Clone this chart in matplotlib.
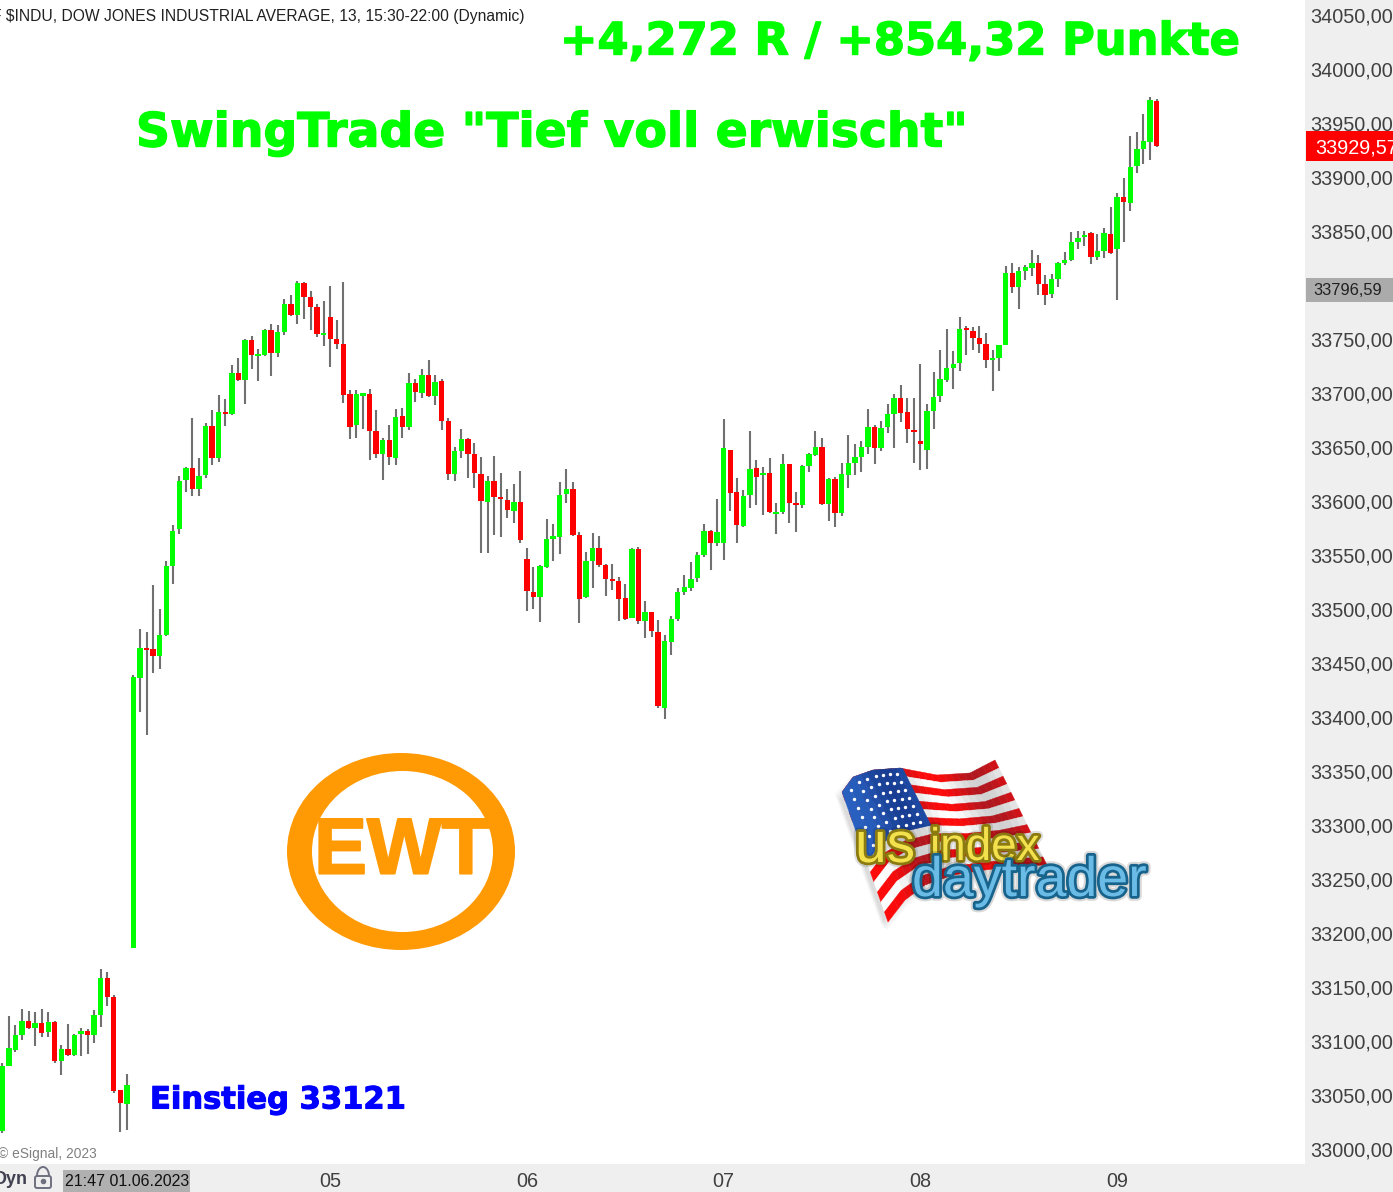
import numpy as np
import matplotlib
matplotlib.use("Agg")
import matplotlib.pyplot as plt
from matplotlib.patches import Ellipse, Polygon, Rectangle, FancyBboxPatch
import matplotlib.patheffects as pe

W, H = 1393, 1192

# --- data, one entry per 13-minute bar ---
body_high = [33078,33094,33106.5,33119.4,33119.4,33117.7,33117.7,33118.4,33118.4,33093.5,
33093.5,33106.5,33110,33110,33125,33159.3,33159.3,33141.4,33055.4,33060,
33438,33464.8,33464.8,33463.9,33476.8,33540.7,33573.1,33619.4,33631.5,33631.5,
33624.1,33670.4,33670.4,33683.3,33683.3,33719.4,33719.4,33750,33750,33737,
33759.2,33759.2,33757.4,33783.3,33783.3,33802.8,33802.8,33789.8,33780.5,33756.5,
33771.3,33750.9,33746.3,33700,33700,33700.9,33700,33665.7,33657.4,33657.4,
33678.7,33679.6,33710.2,33710.2,33717.6,33717.6,33711.1,33712,33675,33647.2,
33658.3,33658.3,33644.4,33625.9,33619.4,33619.4,33604.6,33601.8,33600,33600,
33547.2,33516.6,33540.7,33565.7,33568.5,33606.4,33612,33612,33569.4,33545.4,
33557.4,33557.4,33541.7,33528.7,33526.9,33511.1,33556.5,33556.5,33498.2,33498.2,
33479.6,33471.3,33491.7,33516.7,33521.3,33528.7,33550.9,33573.2,33573.2,33572.2,
33650,33648.2,33609.3,33605.6,33630.6,33631.5,33626.9,33626.9,33590.8,33635.2,
33635.2,33599,33633.3,33644.4,33650.9,33650.9,33621.3,33621.3,33625.9,33636.1,
33641.6,33650.9,33669.4,33669.4,33668.5,33681.4,33696.3,33696.3,33683.3,33666.6,
33656.4,33684.2,33697.2,33713.9,33724,33727.7,33760.1,33761.1,33758.3,33751.8,
33746.3,33733.3,33745.3,33812.1,33812.1,33813.9,33817.6,33821.3,33821.3,33801.9,
33806.5,33821.3,33824.1,33840.8,33844.5,33847.2,33849.1,33832.4,33849.1,33848.2,
33882.4,33882.4,33910.2,33926.9,33934.3,33972.2,33971.3]

body_low = [33018,33078,33093,33106.5,33112.8,33112.8,33108,33109.3,33082.3,33082.3,
33088,33088,33107.2,33106.5,33106.5,33125,33141.4,33054.7,33043.5,33042.5,
33187.2,33436.9,33462.9,33457.4,33457.4,33476.8,33540.7,33575,33620.4,33612,
33612,33625,33640.7,33640.7,33681.5,33681.5,33712.9,33712.9,33736.1,33735.2,
33736.1,33737.9,33737.9,33757.4,33773.1,33773.1,33789.8,33780.5,33755.5,33754.6,
33750.9,33746.3,33699.1,33669.4,33671.3,33698.1,33665.7,33644.4,33644.4,33641.6,
33640.7,33669.4,33669.4,33701.8,33700.9,33698.1,33698.1,33675,33625.9,33625.9,
33647.2,33644.4,33626.8,33600.9,33600,33604.6,33602.7,33592.6,33591.6,33564.8,
33517.6,33512,33512,33539.8,33565.7,33567.6,33607.4,33569.4,33510.2,33512.1,
33545.4,33541.7,33528.7,33526.9,33510.2,33491.7,33492.6,33489.8,33489.8,33480.6,
33411.1,33409.3,33470.4,33491.7,33516.7,33520.4,33529.6,33550.9,33562.1,33562.1,
33562.1,33608.3,33578.7,33577.8,33606.5,33623.2,33625,33590.8,33588.9,33590.8,
33599,33597.2,33597.2,33633.3,33643.5,33598.1,33598.1,33589.8,33589.8,33625,
33636.1,33641.6,33650.9,33650,33650,33669.4,33681.4,33682.4,33667.6,33664.8,
33653.7,33648.1,33684.2,33698.1,33713,33724,33728.7,33759.2,33751.8,33746.3,
33731.4,33731.4,33733.3,33745.4,33799.1,33799.1,33813.9,33816.7,33801.9,33791.7,
33792.6,33806.5,33821.3,33824.1,33840.8,33845.4,33826.9,33826.9,33832.4,33830.6,
33834.3,33877.8,33876.9,33911.1,33926.9,33933.4,33929.6]

wick_high = [33081,33124,33115.6,33130.6,33128.5,33127.8,33130.6,33127.8,33119.8,33097,
33116.6,33107,33112.8,33112,33129.5,33167.3,33164.9,33143.9,33055.4,33070.5,
33440,33482.4,33479.6,33523.1,33500.9,33545.4,33578.7,33624.1,33632.4,33677.8,
33640.7,33673.1,33685.2,33699.1,33695.4,33726.8,33733.3,33750.9,33753.7,33741.7,
33760.2,33764.8,33763.9,33787.9,33791.7,33804.6,33803.7,33795.4,33783.3,33786.1,
33800,33768.5,33803.7,33703.7,33703.7,33700.9,33704.6,33685.2,33659.2,33671.3,
33686.1,33687,33719.4,33713.9,33723.1,33731.4,33717.6,33713.9,33677.7,33650.9,
33667.6,33659.2,33654.6,33641.6,33624,33642.6,33626.8,33612,33616.6,33628.7,
33557.4,33539.8,33541.7,33584.2,33579.6,33618.5,33630.5,33618.5,33572.2,33553.7,
33571.3,33568.5,33542.6,33542.6,33530.6,33524.1,33557.4,33558.3,33508.3,33498.2,
33490.8,33476.9,33494.5,33520.4,33532.4,33544.5,33553.7,33579.6,33574.1,33602.8,
33676.9,33648.2,33622.2,33611.1,33665.8,33638.9,33632.4,33640.8,33599.1,33644.5,
33635.2,33609.2,33634.2,33645.3,33665.7,33659.2,33622.2,33623.1,33636.1,33662,
33653.7,33656.4,33686.1,33671.3,33675,33690.7,33700,33708.3,33696.3,33696.3,
33727.7,33690.7,33720.3,33740.7,33760.1,33739.8,33771.3,33762.9,33762,33762.9,
33756.4,33740.7,33745.3,33818.5,33821.3,33817.6,33819.5,33833.4,33828.7,33810.2,
33811.1,33822.2,33831.5,33850,33850.9,33850.9,33850,33848.2,33853.7,33873.2,
33886.1,33900,33938.9,33942.6,33959.3,33975,33973.2]

wick_low = [33015.6,33078,33091,33102,33112,33096,33104.8,33104.8,33080.6,33069.4,
33086.9,33086.9,33086.9,33089,33099,33113.8,33133.4,33053,33017,33018.4,
33187,33405.4,33384.4,33441.8,33445.4,33475.9,33524.1,33570.4,33609.2,33605.5,
33605.5,33622.2,33634.2,33637,33670.4,33680.5,33712,33690.7,33723.1,33712,
33735.2,33716.7,33734.2,33754.6,33772.2,33764.8,33769.4,33759.2,33752.8,33744.4,
33725,33741.7,33691.7,33658.3,33659.2,33667.6,33638.9,33640.7,33620.3,33634.2,
33634.2,33659.2,33666.6,33692.6,33696.3,33697.2,33689.8,33666.6,33620.3,33619.4,
33640.7,33622.2,33612.9,33552.7,33552.7,33569.4,33567.6,33585.1,33580.5,33562,
33499,33500.9,33488.8,33538.8,33545.3,33551.8,33599,33568.5,33488,33511.1,
33520.4,33539.8,33513,33518.5,33489.8,33490.8,33492.6,33487.1,33474.1,33475,
33409.3,33399.1,33458.3,33489.8,33513.9,33517.6,33525.9,33549.1,33537.1,33559.3,
33546.3,33591.7,33562.1,33576.9,33594.5,33597.2,33588,33589.8,33570.4,33588.9,
33580.5,33572.2,33594.4,33627.7,33642.6,33597.2,33582.4,33576.8,33587,33612.9,
33625,33627.7,33644.4,33635.2,33647.2,33663.9,33650,33674,33654.6,33636.1,
33629.6,33630.5,33667.6,33692.6,33711.1,33704.6,33721.3,33736.1,33740.7,33737.9,
33724,33702.7,33721.3,33745.4,33793.5,33778.7,33805.6,33809.3,33791.7,33782.4,
33788.9,33799.1,33819.5,33823.2,33834.3,33837,33820.4,33824.1,33825.9,33829.6,
33787.1,33840.8,33869.5,33904.6,33913,33916.7,33928.7]

direction = ("GGGGRGRGRG" "RGGRGGRRRG"
             "GGRRGGGGGR" "GGRGRGRGRG"
             "GRGGRGRRRG" "RRRRGGRRGR"
             "GRGRGRGRRG" "GRRRGRRRGR"
             "RRGGGGGRRG" "GRRRRRGRGR"
             "RGGGGGGGRG" "GRRGGRGRGG"
             "RRGGGRGRGG" "GGGRGGGRRR"
             "RGGGGGGRRR" "RGGGRGGGRR"
             "GGGGGGRGGR" "GRGGGGR")

price_ticks = [34050 - 50 * k for k in range(22)]
day_ticks = [50, 80, 110, 140, 170]
day_labels = ["05", "06", "07", "08", "09"]
last_price = 33929.57
ref_price = 33796.59

GREEN, RED, WICK = "#00FF00", "#FF0000", "#707070"
STRIP = "#EFEFEF"
TXT = "#404040"

# --- pixel calibration of the chart's scales ---
PX_PER_BAR = 6.558
PX_BAR0 = 2.3
PX_PER_POINT = 1.08
PLOT_W, PLOT_H = 1305, 1164

fig = plt.figure(figsize=(W / 100, H / 100), dpi=100, facecolor="white")
ax = fig.add_axes([0, 1 - PLOT_H / H, PLOT_W / W, PLOT_H / H])
ax.set_xlim(-PX_BAR0 / PX_PER_BAR, (PLOT_W - PX_BAR0) / PX_PER_BAR)
ax.set_ylim(34050 - (PLOT_H - 16) / PX_PER_POINT, 34050 + 16 / PX_PER_POINT)
for s in ax.spines.values():
    s.set_visible(False)
ax.set_xticks([]); ax.set_yticks([])

xs = np.arange(len(direction))
cols = [GREEN if d == "G" else RED for d in direction]
ax.vlines(xs, wick_low, wick_high, colors=WICK, linewidth=1.5, zorder=2)
ax.bar(xs, np.array(body_high) - np.array(body_low), bottom=body_low, width=0.82,
       color=cols, linewidth=0, zorder=3)

# overlay in pixel coordinates for furniture
ov = fig.add_axes([0, 0, 1, 1], facecolor="none")
ov.set_xlim(0, W); ov.set_ylim(H, 0); ov.axis("off")
ov.add_patch(Rectangle((1305, 0), 88, H, fc=STRIP, ec="none", zorder=1))
ov.add_patch(Rectangle((0, 1164), W, 28, fc=STRIP, ec="none", zorder=1))

FONT = "Liberation Sans"
def py(p):
    return 16 + (34050 - p) * PX_PER_POINT
def px(i):
    return PX_BAR0 + PX_PER_BAR * i

for p in price_ticks:
    ov.text(1310, py(p) + 1.2, f"{p:.2f}".replace(".", ","), fontsize=14.3, family=FONT,
            color=TXT, va="center", ha="left", zorder=2, clip_on=True)
for i, l in zip(day_ticks, day_labels):
    ov.text(px(i), 1181.5, l, fontsize=14.3, family=FONT, color=TXT, va="center", ha="center", zorder=2)

ov.add_patch(Rectangle((1306, 131), 87, 30, fc=RED, ec="none", zorder=3))
ov.text(1315, py(last_price) + 2, f"{last_price:.2f}".replace(".", ","), fontsize=14.3, family=FONT,
        color="white", va="center", ha="left", zorder=4, clip_on=True)
ov.add_patch(Rectangle((1306, 278), 87, 24, fc="#ABABAB", ec="none", zorder=3))
ov.text(1313, py(ref_price) + 1.2, f"{ref_price:.2f}".replace(".", ","), fontsize=11.8, family=FONT,
        color="#202020", va="center", ha="left", zorder=4, clip_on=True)

ov.text(-8, 17, "F $INDU, DOW JONES INDUSTRIAL AVERAGE, 13, 15:30-22:00 (Dynamic)", fontsize=11.25,
        family=FONT, color="#202020", va="center", ha="left", clip_on=True)
ov.text(-2, 1154, "© eSignal, 2023", fontsize=9.9, family=FONT, color="#808080", va="center", ha="left")
ov.text(-6, 1179, "Dyn", fontsize=13, family=FONT, weight="bold", color="#404050", va="center", ha="left", clip_on=True)
ov.add_patch(Rectangle((63, 1170), 127, 22, fc="#B0B0B0", ec="none", zorder=2))
ov.text(65, 1181.5, "21:47 01.06.2023", fontsize=11.5, family=FONT, color="#101010", va="center", ha="left", zorder=3)
# lock icon
ov.add_patch(FancyBboxPatch((35, 1176), 16, 12, boxstyle="round,pad=0,rounding_size=2", fc="none", ec="#6E7080", lw=1.4, zorder=3))
t = np.linspace(np.pi, 2 * np.pi, 30)
ov.plot(43 + 6 * np.cos(t), 1176 + 9 * np.sin(t), color="#6E7080", lw=1.4, zorder=3)
ov.plot([43], [1181], "o", color="#6E7080", ms=3, zorder=3)

# headlines
heavy = [pe.withStroke(linewidth=1.0, foreground=GREEN)]
ov.text(560, 42, "+4,272 R / +854,32 Punkte", fontsize=32.2, family="DejaVu Sans", weight="bold",
        color=GREEN, va="center", ha="left", path_effects=heavy)
ov.text(136, 134, 'SwingTrade "Tief voll erwischt"', fontsize=34, family="DejaVu Sans", weight="bold",
        color=GREEN, va="center", ha="left", path_effects=heavy)
ov.text(150, 1100, "Einstieg 33121", fontsize=22, family="DejaVu Sans", weight="bold",
        color="#0000FF", va="center", ha="left",
        path_effects=[pe.withStroke(linewidth=0.8, foreground="#0000FF")])

# EWT logo
ORANGE = "#FF9A05"
ov.add_patch(Ellipse((401, 851.5), 228, 197, fc=ORANGE, ec="none", zorder=2))
ov.add_patch(Ellipse((402.5, 851.5), 181, 161, fc="white", ec="none", zorder=3))
ov.text(402, 853, "EWT", fontsize=57, family=FONT, weight="bold", color=ORANGE,
        va="center", ha="center", zorder=4,
        path_effects=[pe.withStroke(linewidth=1.5, foreground=ORANGE)])

# US flag logo
ut = [0, .07, .2, .4, .62, .83, 1]
tx = [842, 853, 873, 900, 937, 970, 995]
ty = [792, 777, 770, 768, 775, 773, 760]
bx = [888, 905, 925, 953, 985, 1018, 1047]
by = [922, 900, 885, 875, 870, 866, 865]
def warp(u, v):
    xt, yt = np.interp(u, ut, tx), np.interp(u, ut, ty)
    xb, yb = np.interp(u, ut, bx), np.interp(u, ut, by)
    return xt + (xb - xt) * v, yt + (yb - yt) * v
def patch(u0, u1, v0, v1, color, z=2, alpha=1.0, dx=0, dy=0):
    u = np.linspace(u0, u1, 12)
    xa, ya = warp(u, v0); xb, yb = warp(u[::-1], v1)
    pts = np.column_stack([np.r_[xa, xb] + dx, np.r_[ya, yb] + dy])
    ov.add_patch(Polygon(pts, fc=color, ec=color, lw=0.3, alpha=alpha, zorder=z))
for k in range(7):
    patch(0, 1, 0, 1, "#000000", z=2, alpha=0.02, dx=-7 + k, dy=2 + k)
n_seg = 24
for j in range(n_seg):
    u0, u1 = j / n_seg, (j + 1) / n_seg
    um = (u0 + u1) / 2
    shade = 0.5 + 0.5 * np.cos(um * 11)
    red = np.array([0.69, 0.09, 0.12]) * (1 - shade) + np.array([1.0, 0.04, 0.04]) * shade
    white = np.array([0.82, 0.82, 0.82]) * (1 - shade) + np.array([1, 1, 1]) * shade
    blue = np.array([0.09, 0.24, 0.58]) * (1 - shade) + np.array([0.16, 0.38, 0.75]) * shade
    for k in range(13):
        patch(u0, u1, k / 13, (k + 1) / 13, tuple(red if k % 2 == 0 else white), z=3)
    if um < .4:
        patch(u0, u1, 0, .54, tuple(blue), z=4)
us, vs = np.meshgrid(np.linspace(.04, .36, 7), np.linspace(.05, .49, 7))
sx, sy = warp(us.ravel(), vs.ravel())
ov.scatter(sx, sy, s=6, c="white", linewidths=0, zorder=5)
yellow_fx = [pe.withStroke(linewidth=7, foreground=(0, 0, 0, 0.12)), pe.withStroke(linewidth=4, foreground="#8A7A10")]
blue_fx = [pe.withStroke(linewidth=7, foreground=(0, 0, 0, 0.15)), pe.withStroke(linewidth=4, foreground="#17638C")]
ov.text(855, 862, "us", fontsize=41, family=FONT, color="#F2E14C", va="baseline", ha="left", zorder=6, path_effects=yellow_fx)
ov.text(930, 860, "index", fontsize=33, family=FONT, color="#F2E14C", va="baseline", ha="left", zorder=6, path_effects=yellow_fx)
ov.text(912, 896, "daytrader", fontsize=40, family=FONT, color="#6ABCE6", va="baseline", ha="left", zorder=7, path_effects=blue_fx)

fig.savefig("out.png", dpi=100, facecolor="white")
